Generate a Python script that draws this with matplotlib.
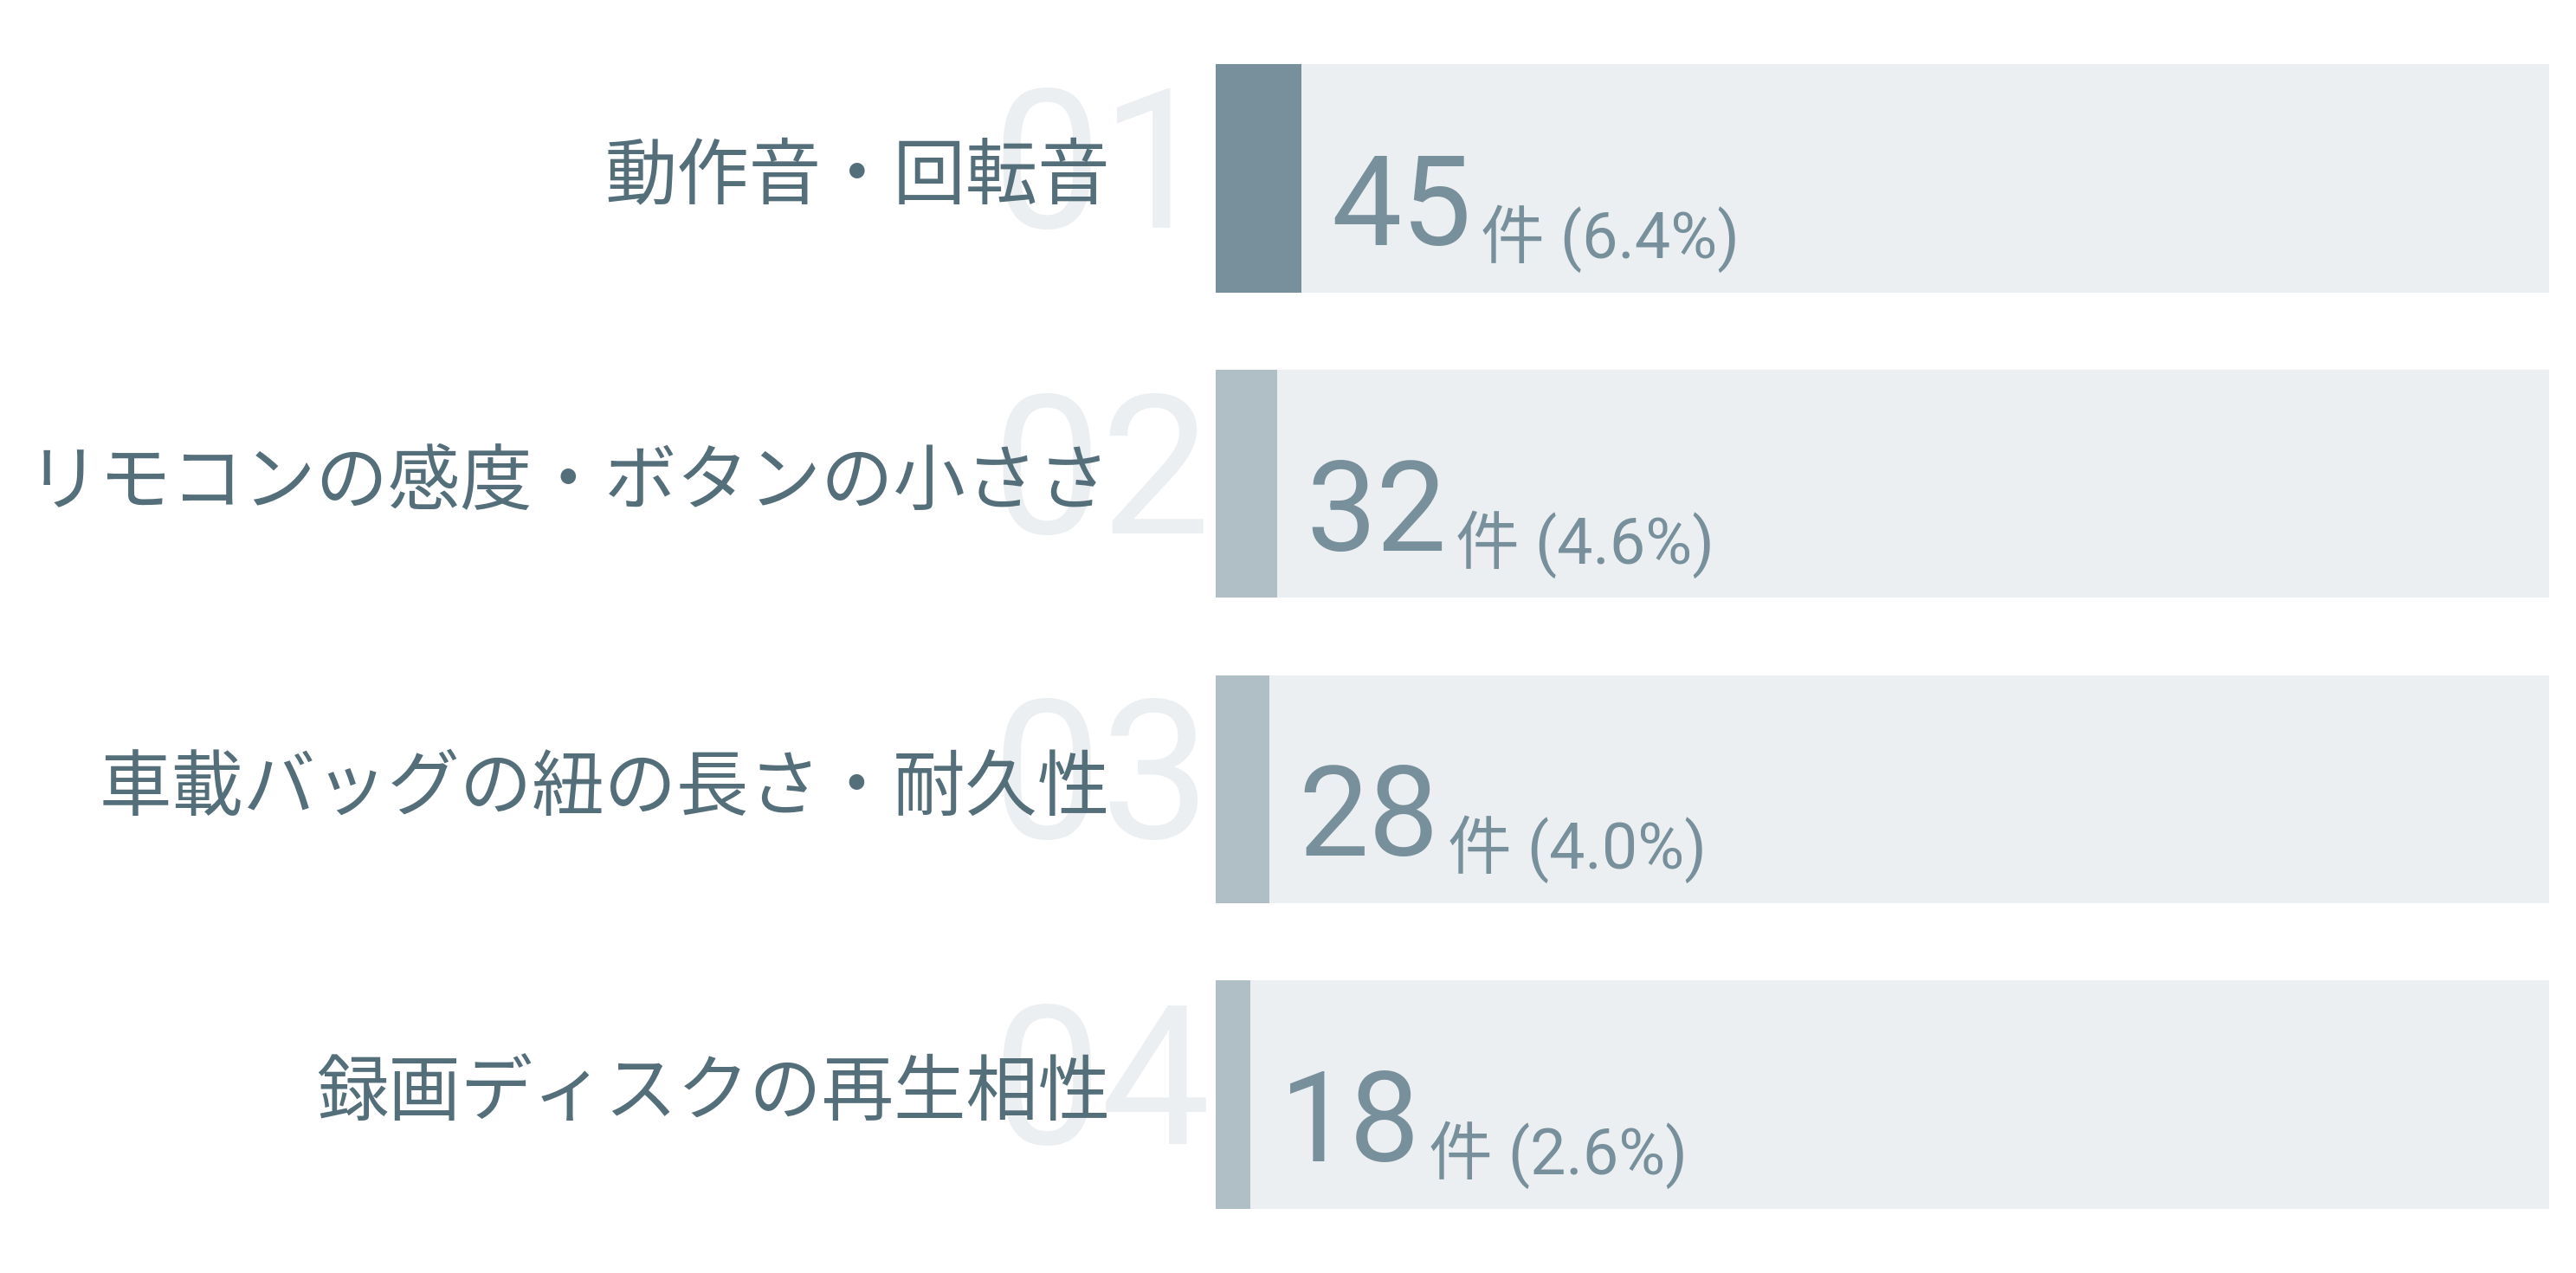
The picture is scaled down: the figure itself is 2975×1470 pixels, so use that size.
import matplotlib
matplotlib.use('Agg')
import matplotlib.pyplot as plt

plt.rcParams['font.family'] = ['Noto Sans CJK JP', 'DejaVu Sans']
digit_fonts = ['Roboto', 'Noto Sans CJK JP', 'DejaVu Sans']

########## DATA ##########
categories = ['動作音・回転音', 'リモコンの感度・ボタンの小ささ',
              '車載バッグの紐の長さ・耐久性', '録画ディスクの再生相性']
counts = [45, 32, 28, 18]
percents = ['6.4%', '4.6%', '4.0%', '2.6%']
ranks = ['01', '02', '03', '04']
total = 700

########## COLOURS ##########
track_color = '#eceff1'
top_color = '#78909c'
rest_color = '#b0bec5'
label_color = '#546e7a'
value_color = '#78909c'
ghost_color = '#eceff1'

fig = plt.figure(figsize=(29.75, 14.7), dpi=100)
ax = fig.add_axes([0.472, 0.0503, 0.5176, 0.8994])

ypos = list(range(len(counts)))
bar_h = 0.747
ax.barh(ypos, [total] * len(counts), height=bar_h, color=track_color, zorder=1)
fills = [top_color] + [rest_color] * (len(counts) - 1)
ax.barh(ypos, counts, height=bar_h, color=fills, zorder=2)

ax.set_xlim(0, total)
ax.set_ylim(3.3735, -0.3735)
ax.axis('off')

for i, (cat, c, p, r) in enumerate(zip(categories, counts, percents, ranks)):
    # big faint rank number behind the label
    ax.annotate(r, xy=(0, i), xycoords=('axes fraction', 'data'),
                xytext=(-6, -57), textcoords='offset pixels',
                ha='right', va='baseline', fontsize=162, color=ghost_color,
                family=digit_fonts, zorder=0, annotation_clip=False)
    # category label
    ax.annotate(cat, xy=(0, i), xycoords=('axes fraction', 'data'),
                xytext=(-122, -23), textcoords='offset pixels',
                ha='right', va='baseline', fontsize=60, color=label_color,
                zorder=3, annotation_clip=False)
    # count
    big = ax.annotate(str(c), xy=(c, i), xytext=(34, -77),
                      textcoords='offset pixels', ha='left', va='baseline',
                      fontsize=104, color=value_color, family=digit_fonts,
                      zorder=4)
    ax.annotate('件 (' + p + ')', xy=(1, i), xycoords=(big, 'data'),
                xytext=(10, -92), textcoords='offset pixels',
                ha='left', va='baseline', fontsize=53, color=value_color,
                family=digit_fonts, zorder=4)

fig.savefig('out.png', dpi=100)
